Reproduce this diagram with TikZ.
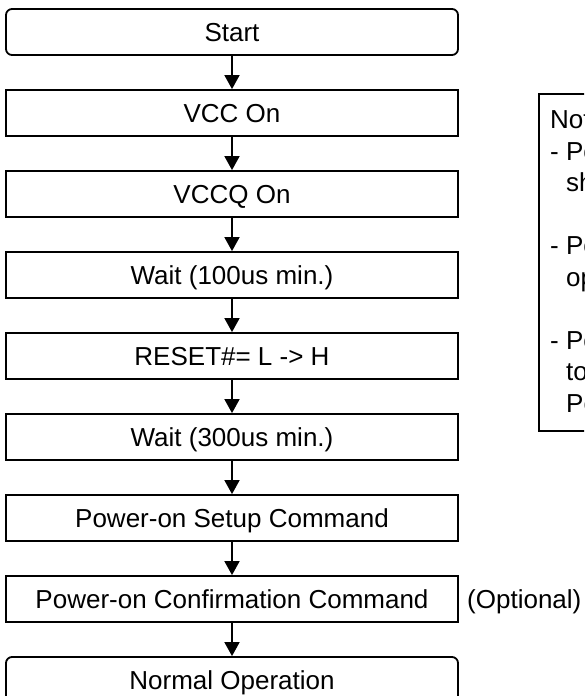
\documentclass[tikz,border=0pt]{standalone}
\usepackage{fontspec}
\setmainfont{Liberation Sans}
\usetikzlibrary{arrows.meta}
\begin{document}
\begin{tikzpicture}[x=1pt,y=-1pt,
  every node/.style={font=\fontsize{26}{31}\selectfont},
  stepbox/.style={draw, line width=1.8pt, minimum width=452pt, minimum height=46pt,
    inner sep=0pt, text height=18.6pt, text depth=0pt},
  termbox/.style={stepbox, rounded corners=6pt},
  flow/.style={line width=1.8pt, -{Triangle[width=15pt,length=14pt]}},
  notetext/.style={anchor=base west, inner sep=0pt}]
\useasboundingbox (0,0) rectangle (584,696);
\clip (0,0) rectangle (584,696);
\fill[white] (0,0) rectangle (584,696);

% power-up sequence
\node[termbox] (start)   at (232,32)  {Start};
\node[stepbox] (vcc)     at (232,113) {VCC On};
\node[stepbox] (vccq)    at (232,194) {VCCQ On};
\node[stepbox] (wait1)   at (232,275) {Wait (100us min.)};
\node[stepbox] (reset)   at (232,356) {RESET\#= L -> H};
\node[stepbox] (wait2)   at (232,437) {Wait (300us min.)};
\node[stepbox] (setup)   at (232,518) {Power-on Setup Command};
\node[stepbox] (confirm) at (232,599) {Power-on Confirmation Command};
\node[termbox] (normal)  at (232,680) {Normal Operation};

\node[anchor=west, inner sep=0pt, text height=18.6pt, text depth=0pt] (opt) at (467,599) {(Optional)};

\draw[flow] (start) -- (vcc);
\draw[flow] (vcc) -- (vccq);
\draw[flow] (vccq) -- (wait1);
\draw[flow] (wait1) -- (reset);
\draw[flow] (reset) -- (wait2);
\draw[flow] (wait2) -- (setup);
\draw[flow] (setup) -- (confirm);
\draw[flow] (confirm) -- (normal);

% notes panel (runs past the right edge)
\node[draw, line width=1.8pt, anchor=north west, minimum width=200pt, minimum height=337pt,
  inner sep=0pt] (note) at (538,93) {};
\node[notetext] (n0) at (550,128) {Note:};
\node[notetext] (n1) at (550,160) {- Pow};
\node[notetext] (n2) at (566,191) {sho};
\node[notetext] (n3) at (550,254) {- Pow};
\node[notetext] (n4) at (566,286) {ope};
\node[notetext] (n5) at (550,349) {- Pow};
\node[notetext] (n6) at (566,380) {to};
\node[notetext] (n7) at (566,412) {Pow};
\end{tikzpicture}
\end{document}
